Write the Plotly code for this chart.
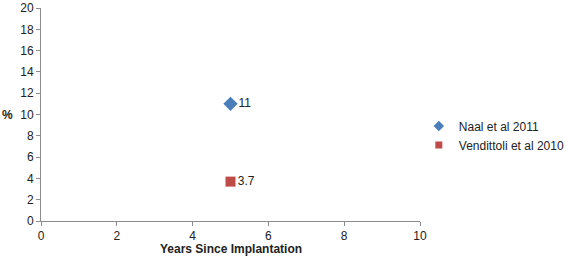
import plotly.graph_objects as go

series_names = ["Naal et al 2011", "Vendittoli et al 2010"]
x_years = [[5], [5]]
y_values = [[11], [3.7]]
labels = [["11"], ["3.7"]]
symbols = ["diamond", "square"]
colors = ["#4a7ebb", "#be4b48"]
y_ticks = [0, 2, 4, 6, 8, 10, 12, 14, 16, 18, 20]

FONT = dict(family="Liberation Sans, Arial", size=12, color="#222")

fig = go.Figure()
for n, xs, ys, lb, s, c in zip(series_names, x_years, y_values, labels, symbols, colors):
    fig.add_trace(go.Scatter(
        x=xs, y=ys, mode="markers+text", name=n, text=lb,
        textposition="middle right", textfont=FONT,
        marker=dict(symbol=s, color=c, size=11 if s == "diamond" else 10, line=dict(width=0)),
        showlegend=False, cliponaxis=False,
    ))
    fig.add_trace(go.Scatter(
        x=[None], y=[None], mode="markers", name=n,
        marker=dict(symbol=s, color=c, size=8 if s == "diamond" else 7, line=dict(width=0)),
    ))

axis_common = dict(
    showgrid=False, zeroline=False, showline=True, linecolor="#8c8c8c", linewidth=1,
    ticks="outside", tickcolor="#8c8c8c", ticklen=4, automargin=False,
    tickfont=FONT,
)
fig.update_xaxes(range=[0, 10], dtick=2, tick0=0, **axis_common)
fig.update_yaxes(range=[0, 20], tickvals=y_ticks, **axis_common)

fig.add_annotation(text="<b>Years Since Implantation</b>", x=0.5, xref="paper",
                   y=-0.13, yref="paper", yanchor="middle", showarrow=False, font=FONT)
fig.add_annotation(text="<b>%</b>", x=-0.108, xref="paper", xanchor="left",
                   y=10, yref="y", showarrow=False, font=FONT)

fig.update_layout(
    width=566, height=261,
    margin=dict(l=41, r=146, t=8, b=40, autoexpand=False),
    plot_bgcolor="white", paper_bgcolor="white",
    showlegend=True,
    legend=dict(x=0.74, xref="container", y=0.481, yref="container",
                xanchor="left", yanchor="middle",
                font=FONT, itemwidth=30, bgcolor="rgba(0,0,0,0)"),
)
fig.write_html("out.html", config={"displayModeBar": False})
with open("out.html", encoding="utf-8") as f:
    html = f.read()
html = html.replace("<head>", "<head><style>html,body{margin:0;padding:0;overflow:hidden;}</style>", 1)
with open("out.html", "w", encoding="utf-8") as f:
    f.write(html)
